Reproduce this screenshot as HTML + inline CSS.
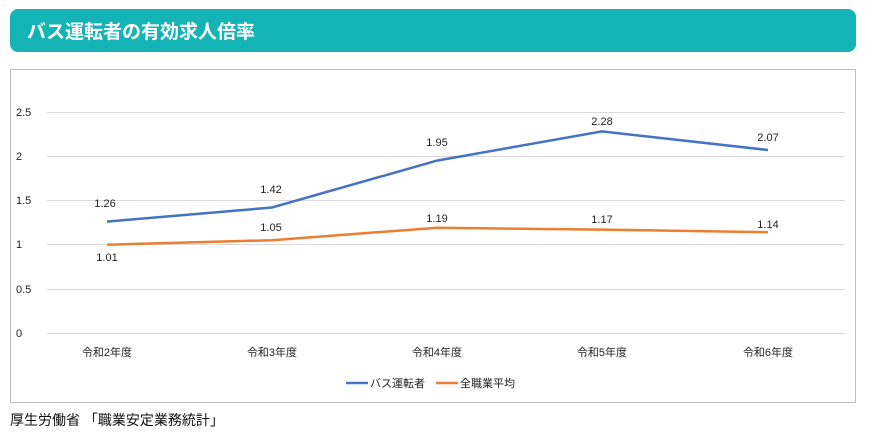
<!DOCTYPE html>
<html><head><meta charset="utf-8"><style>
body{margin:0;background:#fff;width:872px;height:441px;overflow:hidden;font-family:"Liberation Sans","Noto Sans CJK JP",sans-serif;}
.hd{position:absolute;left:10px;top:9px;width:846px;height:43px;background:#14b3b6;border-radius:8px;}
.hd span{position:absolute;left:17px;top:8px;color:#fff;font-size:19px;font-weight:bold;}
.box{position:absolute;left:10px;top:69px;width:844px;height:332px;border:1px solid #bdbdbd;}
.src{position:absolute;left:10px;top:410px;font-size:14px;color:#111;}
</style></head><body>
<div class="hd"><span>バス運転者の有効求人倍率</span></div>
<div class="box"></div>
<svg style="position:absolute;left:0;top:0" width="872" height="441" font-family="Liberation Sans, Noto Sans CJK JP, sans-serif" font-size="11" fill="#222">
<g stroke="#d9d9d9" stroke-width="1">
<line x1="47" x2="845" y1="333.5" y2="333.5"/><line x1="47" x2="845" y1="289.5" y2="289.5"/><line x1="47" x2="845" y1="244.5" y2="244.5"/><line x1="47" x2="845" y1="200.5" y2="200.5"/><line x1="47" x2="845" y1="156.5" y2="156.5"/><line x1="47" x2="845" y1="112.5" y2="112.5"/>
</g>
<g text-anchor="start">
<text x="16" y="337">0</text><text x="16" y="293">0.5</text><text x="16" y="248">1</text><text x="16" y="204">1.5</text><text x="16" y="160">2</text><text x="16" y="116">2.5</text>
</g>
<polyline fill="none" stroke="#4472c4" stroke-width="2.5" points="107,221.6 272,207.5 437,160.6 602,131.4 768,150"/>
<polyline fill="none" stroke="#ed7d31" stroke-width="2.5" points="107,244.7 272,240.2 437,227.8 602,229.6 768,232.2"/>
<g text-anchor="middle">
<text x="105" y="207">1.26</text><text x="271" y="193">1.42</text><text x="437" y="146">1.95</text><text x="602" y="125">2.28</text><text x="768" y="141">2.07</text>
<text x="107" y="261">1.01</text><text x="271" y="231">1.05</text><text x="437" y="222">1.19</text><text x="602" y="223">1.17</text><text x="768" y="228">1.14</text>
<text x="107" y="356">令和2年度</text><text x="272" y="356">令和3年度</text><text x="437" y="356">令和4年度</text><text x="602" y="356">令和5年度</text><text x="768" y="356">令和6年度</text>
</g>
<line x1="346" x2="368" y1="383" y2="383" stroke="#4472c4" stroke-width="2.5"/>
<text x="370" y="387">バス運転者</text>
<line x1="436" x2="458" y1="383" y2="383" stroke="#ed7d31" stroke-width="2.5"/>
<text x="460" y="387">全職業平均</text>
</svg>
<div class="src">厚生労働省 「職業安定業務統計」</div>
</body></html>
